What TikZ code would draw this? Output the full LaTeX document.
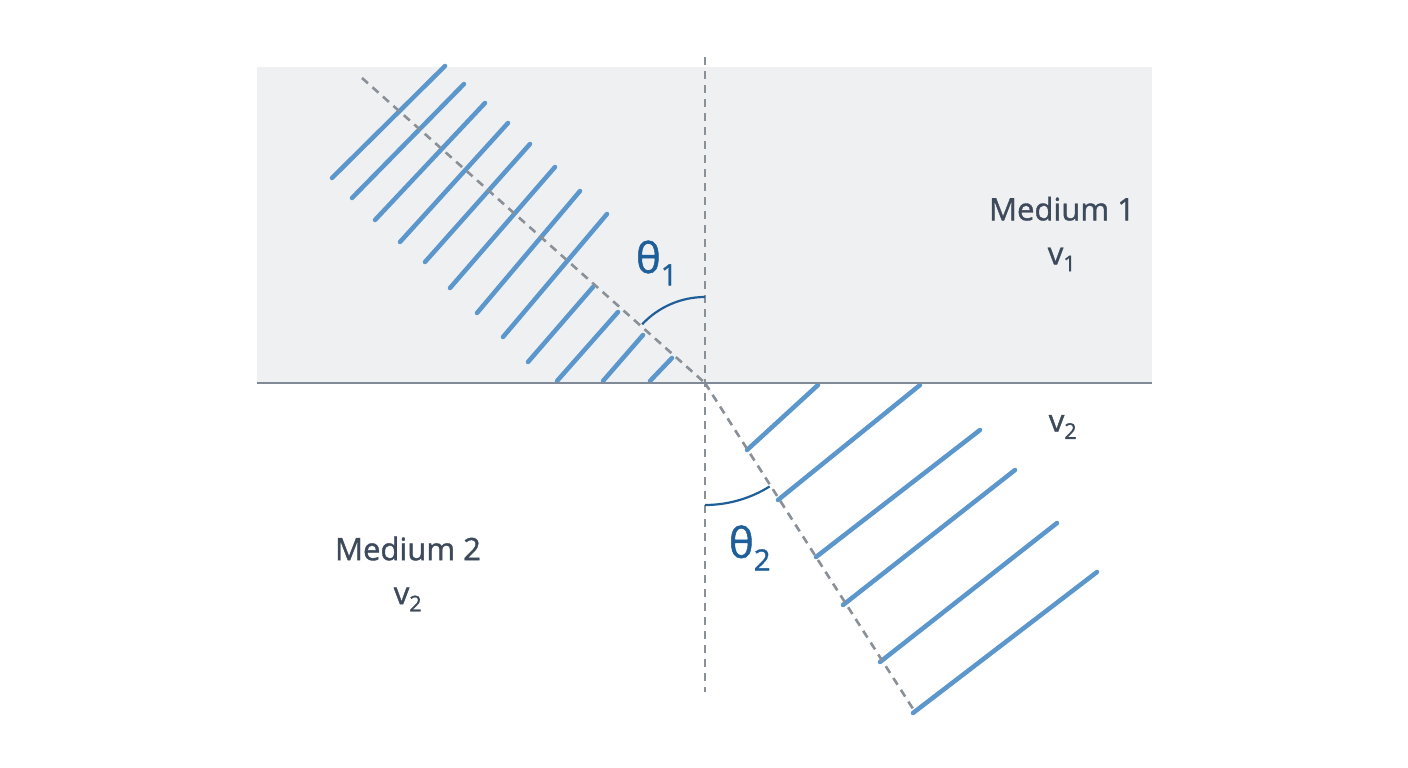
\documentclass[tikz,border=0pt]{standalone}
\usepackage{fontspec}
\setmainfont{Open Sans}
\newfontfamily\semib{Open Sans}[FakeBold=1.2]
\begin{document}
\begin{tikzpicture}[x=1pt,y=-1pt,
  wave/.style={line width=4.5pt,line cap=round,color=wblue},
  guide/.style={line width=2.6pt,color=gcol,dash pattern=on 8pt off 6pt},
  lbl/.style={text=tcol,font=\semib\fontsize{31}{44}\selectfont,align=center},
  th/.style={text=thcol,font=\semib\fontsize{42}{46}\selectfont}]
\definecolor{wblue}{HTML}{5B97CC}
\definecolor{tcol}{HTML}{3D4A5C}
\definecolor{thcol}{HTML}{1F5F99}
\definecolor{bgg}{HTML}{EFF0F1}
\definecolor{lcol}{HTML}{7F8A96}
\definecolor{gcol}{HTML}{8A9098}
\useasboundingbox (0,0) rectangle (1408,768);
\fill[white] (0,0) rectangle (1408,768);
\fill[bgg] (257,67) rectangle (1152,383);
\coordinate (O) at (705,383);
\coordinate (ntop) at (705,57);
\coordinate (nbot) at (705,692);
\coordinate (inc) at (362,78);
\coordinate (ref) at (915,712);
% incident wavefronts
\foreach \a/\b in {{332,178}/{445,66},{352,198}/{464,84},{375,220}/{485,103},{400,242}/{508,123},{425,262}/{530,144},{450,288}/{555,167},{477,313}/{580,191},{503,337}/{607,214},{528,362}/{593,287},{557,381}/{618,312},{603,381}/{643,335},{650,381}/{672,358}}
  \draw[wave] (\a) -- (\b);
% refracted wavefronts
\foreach \a/\b in {{747,450}/{818,385},{778,500}/{920,385},{816,557}/{980,430},{843,605}/{1015,470},{880,662}/{1057,523},{913,713}/{1097,572}}
  \draw[wave] (\a) -- (\b);
\draw[guide] (ntop) -- (nbot);
\draw[guide] (inc) -- (O);
\draw[guide] (O) -- (ref);
\draw[lcol,line width=2.5pt] (257,383) -- (1152,383);
\draw[thcol,line width=2.2pt] (705,297) arc[start angle=-90,end angle=-137,radius=86];
\draw[thcol,line width=2.2pt] (705,505) arc[start angle=90,end angle=58,radius=122];
\node[th] (t1) at (657,263) {θ\textsubscript{1}};
\node[th] (t2) at (750,548) {θ\textsubscript{2}};
\node[lbl] (m1) at (1062,234) {Medium 1\\v\textsubscript{1}};
\node[lbl] (v2r) at (1063,427) {v\textsubscript{2}};
\node[lbl] (m2) at (408,574) {Medium 2\\v\textsubscript{2}};
\end{tikzpicture}
\end{document}
